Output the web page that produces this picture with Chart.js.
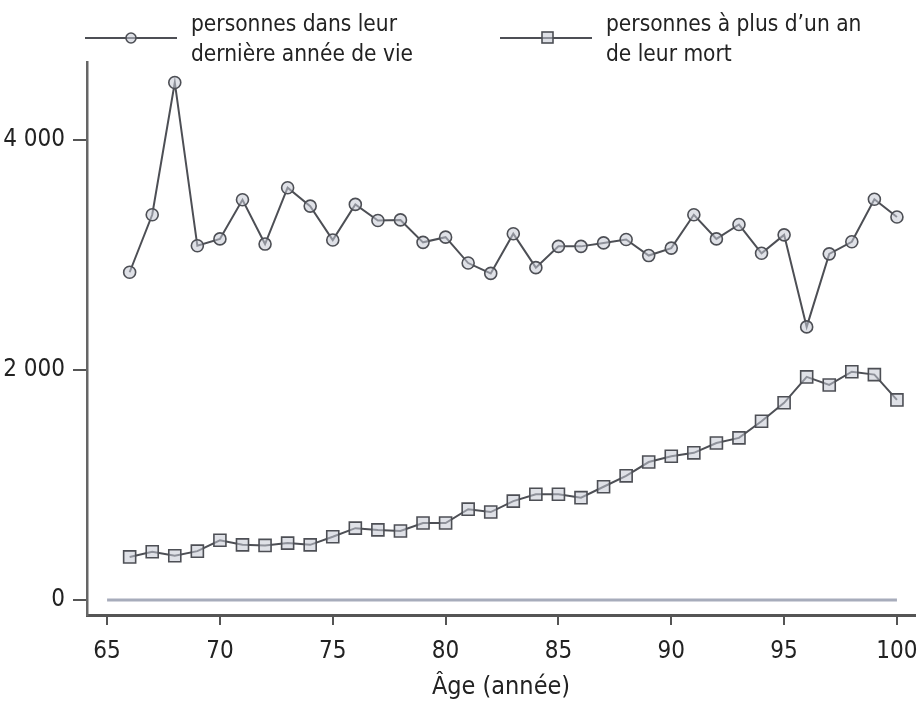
<!DOCTYPE html>
<html lang="fr">
<head>
<meta charset="utf-8">
<title>Âge (année)</title>
<script src="https://cdn.jsdelivr.net/npm/chart.js@4.4.1/dist/chart.umd.min.js"></script>
<style>
  html, body { margin: 0; padding: 0; background: #fff; }
  #wrap { position: relative; width: 917px; height: 702px; }
  #legend { position: absolute; left: 0; top: 0; width: 917px; height: 62px;
            font-family: "DejaVu Sans Condensed", sans-serif; color: #222; }
  .legend-item { position: absolute; top: 8px; display: flex; align-items: center; }
  .legend-item svg { flex: none; }
  .legend-text { margin-left: 14px; font-size: 22.5px; line-height: 30px; }
</style>
</head>
<body>
<div id="wrap">
  <canvas id="chart"></canvas>
  <div id="legend"></div>
</div>
<script>
// Données
const ages = [66, 67, 68, 69, 70, 71, 72, 73, 74, 75, 76, 77, 78, 79, 80, 81, 82, 83,
              84, 85, 86, 87, 88, 89, 90, 91, 92, 93, 94, 95, 96, 97, 98, 99, 100];
const derniereAnnee = [2850, 3350, 4500, 3080, 3140, 3480, 3095, 3585, 3425, 3130, 3440, 3300, 3305, 3110, 3155,
                       2930, 2840, 3185, 2890, 3075, 3075, 3105, 3135, 2995, 3060, 3350, 3140, 3265, 3015, 3175,
                       2375, 3010, 3115, 3485, 3330];
const plusDUnAn = [375, 420, 385, 425, 520, 480, 475, 495, 480, 550, 625, 610, 600, 670, 670,
                   790, 765, 860, 920, 920, 890, 985, 1080, 1200, 1250, 1280, 1365, 1410, 1555, 1715,
                   1940, 1870, 1985, 1960, 1740];
const xTicks = [65, 70, 75, 80, 85, 90, 95, 100];
const yTicks = [0, 2000, 4000];
const legendLabels = [
    ['personnes dans leur', 'dernière année de vie'],
    ['personnes à plus d’un an', 'de leur mort']
];
const legendLeft = [85, 500];

const FONT = '"DejaVu Sans Condensed", sans-serif';
const LINE_COLOR = '#4d4f55';
const MARKER_FILL = 'rgba(196, 200, 212, 0.55)';

function toPoints(values) {
    return ages.map((a, i) => ({ x: a, y: values[i] }));
}

function formatThousands(v) {
    return String(v).replace(/\B(?=(\d{3})+(?!\d))/g, ' ');
}

// Légende HTML (échantillon ligne + marqueur, texte sur deux lignes)
const htmlLegend = {
    id: 'htmlLegend',
    afterUpdate(chart) {
        const box = document.getElementById('legend');
        box.innerHTML = '';
        chart.data.datasets.forEach((ds, i) => {
            if (!ds.inLegend) return;
            const item = document.createElement('div');
            item.className = 'legend-item';
            item.style.left = legendLeft[i] + 'px';
            const marker = ds.pointStyle === 'rect'
                ? '<rect x="42" y="9" width="11" height="11" fill="' + MARKER_FILL + '" stroke="' + LINE_COLOR + '" stroke-width="1.6"/>'
                : '<circle cx="46" cy="15" r="5" fill="' + MARKER_FILL + '" stroke="' + LINE_COLOR + '" stroke-width="1.6"/>';
            item.innerHTML =
                '<svg width="92" height="30"><line x1="0" y1="15" x2="92" y2="15" stroke="' + LINE_COLOR + '" stroke-width="2"/>' +
                marker + '</svg>' +
                '<div class="legend-text">' + ds.label.join('<br>') + '</div>';
            box.appendChild(item);
        });
    }
};

new Chart(document.getElementById('chart'), {
    type: 'line',
    data: {
        datasets: [
            {
                label: legendLabels[0],
                inLegend: true,
                data: toPoints(derniereAnnee),
                borderColor: LINE_COLOR,
                borderWidth: 2,
                pointStyle: 'circle',
                pointRadius: 6,
                pointBorderWidth: 1.6,
                pointBorderColor: LINE_COLOR,
                pointBackgroundColor: MARKER_FILL,
                tension: 0
            },
            {
                label: legendLabels[1],
                inLegend: true,
                data: toPoints(plusDUnAn),
                borderColor: LINE_COLOR,
                borderWidth: 2,
                pointStyle: 'rect',
                pointRadius: 8.5,
                pointBorderWidth: 1.6,
                pointBorderColor: LINE_COLOR,
                pointBackgroundColor: MARKER_FILL,
                tension: 0
            },
            {
                // ligne de référence à zéro
                label: ['0'],
                inLegend: false,
                data: [{ x: xTicks[0], y: yTicks[0] }, { x: xTicks[xTicks.length - 1], y: yTicks[0] }],
                borderColor: '#a7acbb',
                borderWidth: 3,
                pointRadius: 0
            }
        ]
    },
    options: {
        responsive: true,
        maintainAspectRatio: false,
        animation: false,
        // pas de marge auto pour les marqueurs du bord droit
        layout: { autoPadding: false, padding: { top: 62, right: 2, left: 0, bottom: 0 } },
        plugins: {
            legend: { display: false },
            tooltip: { enabled: false }
        },
        scales: {
            x: {
                type: 'linear',
                min: 64.11,
                max: 100.8,
                afterBuildTicks: scale => { scale.ticks = xTicks.map(v => ({ value: v })); },
                afterFit: scale => {
                    scale.height = 87;
                    scale.paddingLeft = 0;
                    scale.paddingRight = 0;
                },
                grid: { drawOnChartArea: false, drawTicks: true, tickLength: 10, color: '#555', lineWidth: 2 },
                border: { display: true, color: '#555', width: 3 },
                ticks: { color: '#222', padding: 12, font: { family: FONT, size: 24 } },
                title: {
                    display: true,
                    text: 'Âge (année)',
                    color: '#222',
                    padding: { top: 8, bottom: 0 },
                    font: { family: FONT, size: 25 }
                }
            },
            y: {
                min: -130,
                max: 4678,
                afterBuildTicks: scale => { scale.ticks = yTicks.map(v => ({ value: v })); },
                afterFit: scale => {
                    scale.width = 87;
                    scale.paddingTop = 0;
                    scale.paddingBottom = 0;
                },
                grid: { drawOnChartArea: false, drawTicks: true, tickLength: 14, color: '#555', lineWidth: 2 },
                border: { display: true, color: '#666', width: 2.5 },
                ticks: {
                    color: '#222',
                    padding: 8,
                    font: { family: FONT, size: 24 },
                    callback: v => formatThousands(v)
                }
            }
        }
    },
    plugins: [htmlLegend]
});
</script>
</body>
</html>
